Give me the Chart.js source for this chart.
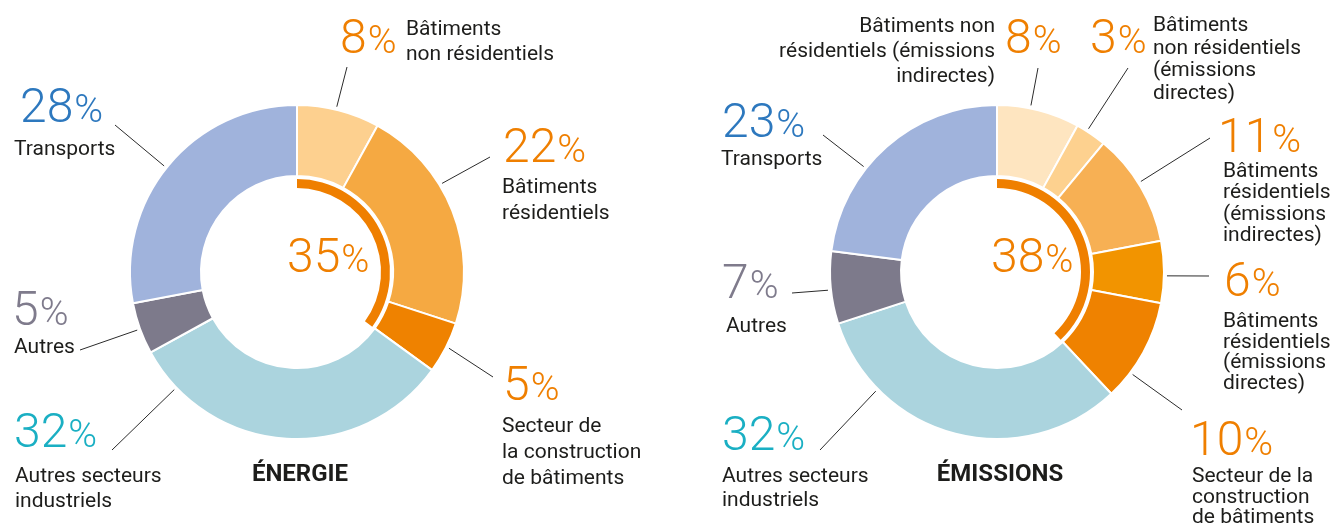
<!DOCTYPE html>
<html>
<head>
<meta charset="utf-8">
<script src="https://cdn.jsdelivr.net/npm/chart.js@4.4.1/dist/chart.umd.min.js"></script>
<style>
  body { margin: 0; background: #fff; }
  canvas { position: absolute; top: 0; }
  #energie { left: 0; }
  #emissions { left: 667px; }
</style>
</head>
<body>
<canvas id="energie" width="667" height="527"></canvas>
<canvas id="emissions" width="667" height="527"></canvas>
<script>
// Energy shares (%), clockwise from 12 o'clock
var energyNames = [
  ["Bâtiments", "non résidentiels"],
  ["Bâtiments", "résidentiels"],
  ["Secteur de", "la construction", "de bâtiments"],
  ["Autres secteurs", "industriels"],
  ["Autres"],
  ["Transports"]
];
var energyValues = [8, 22, 5, 32, 5, 28];
var energyBuildings = 35;

// Emission shares (%)
var emissionNames = [
  ["Bâtiments non", "résidentiels (émissions", "indirectes)"],
  ["Bâtiments", "non résidentiels", "(émissions", "directes)"],
  ["Bâtiments", "résidentiels", "(émissions", "indirectes)"],
  ["Bâtiments", "résidentiels", "(émissions", "directes)"],
  ["Secteur de la", "construction", "de bâtiments"],
  ["Autres secteurs", "industriels"],
  ["Autres"],
  ["Transports"]
];
var emissionValues = [8, 3, 11, 6, 10, 32, 7, 23];
var emissionBuildings = 38;

// styles
var ORANGE = "#EF7F00";
var energyColors = ["#FDD08F", "#F5A942", "#EF8200", "#ABD4DE", "#7D7A8B", "#A0B3DC"];
var energyTextColors = [ORANGE, ORANGE, ORANGE, "#1AAFC3", "#7F7B8C", "#2D78BE"];
var emissionColors = ["#FEE5C0", "#FDD18F", "#F7B054", "#F29400", "#EF8200", "#ABD4DE", "#7D7A8B", "#A0B3DC"];
var emissionTextColors = [ORANGE, ORANGE, ORANGE, ORANGE, ORANGE, "#1AAFC3", "#7F7B8C", "#2D78BE"];

// callout layout (canvas coords): t = where on the arc the leader starts
var energyLayout = [
  { t: 0.47, end: [347, 67], num: [340, 53], txt: [406, 35], lh: 25 },
  { t: 0.376, end: [490, 157], num: [503, 162], txt: [502, 193], lh: 26 },
  { t: 0.48, end: [493, 377], num: [503, 400], txt: [502, 432], lh: 26 },
  { t: 0.87, end: [112, 450], num: [14, 447], txt: [15, 482], lh: 25 },
  { t: 0.49, end: [80, 350], num: [12, 325], txt: [14, 353], lh: 25 },
  { t: 0.49, end: [115, 125], num: [20, 122], txt: [14, 155], lh: 25 }
];
var emissionLayout = [
  { t: 0.40, end: [371, 68], num: [338, 53], txt: [328, 32], lh: 25, align: "right" },
  { t: 0.35, end: [461, 68], num: [423, 53], txt: [486, 31], lh: 22.5 },
  { t: 0.46, end: [543, 138], num: [551, 152], txt: [556, 177], lh: 21.3 },
  { t: 0.56, end: [542, 276], num: [557, 296], txt: [556, 327], lh: 20.7 },
  { t: 0.73, end: [515, 410], num: [523, 455], txt: [525, 482], lh: 20.5 },
  { t: 0.77, end: [153, 450], num: [55, 450], txt: [55, 482], lh: 24 },
  { t: 0.47, end: [125, 293], num: [55, 298], txt: [59, 332], lh: 24 },
  { t: 0.376, end: [156, 135], num: [55, 137], txt: [54, 165], lh: 24 }
];

function drawPercent(ctx, x, y, value, color, big, small) {
  ctx.fillStyle = color;
  ctx.textAlign = "left";
  ctx.textBaseline = "alphabetic";
  ctx.font = "300 " + big + "px Roboto";
  ctx.fillText(String(value), x, y);
  var w = ctx.measureText(String(value)).width;
  ctx.font = "300 " + small + "px Roboto";
  ctx.fillText("%", x + w + 1, y);
}

var calloutPlugin = {
  id: "callouts",
  afterDraw: function(chart, args, opts) {
    var ctx = chart.ctx;
    var arcs = chart.getDatasetMeta(0).data;
    ctx.save();
    arcs.forEach(function(arc, i) {
      var lay = opts.layout[i];
      var p = arc.getProps(["x", "y", "startAngle", "endAngle", "outerRadius"], true);
      var a = p.startAngle + lay.t * (p.endAngle - p.startAngle);
      var r = p.outerRadius + 3;
      ctx.strokeStyle = "#2b2b2b";
      ctx.lineWidth = 1;
      ctx.beginPath();
      ctx.moveTo(p.x + r * Math.cos(a), p.y + r * Math.sin(a));
      ctx.lineTo(lay.end[0], lay.end[1]);
      ctx.stroke();

      drawPercent(ctx, lay.num[0], lay.num[1], opts.values[i], opts.textColors[i], 48, 39);

      ctx.fillStyle = "#1d1d1b";
      ctx.font = "21px Roboto";
      ctx.textAlign = lay.align || "left";
      opts.names[i].forEach(function(line, k) {
        ctx.fillText(line, lay.txt[0], lay.txt[1] + k * lay.lh);
      });
    });

    // centre figure and title
    drawPercent(ctx, opts.center[0], opts.center[1], opts.total, ORANGE, 48, 38);
    ctx.fillStyle = "#1d1d1b";
    ctx.font = "bold 24px Roboto";
    ctx.textAlign = "center";
    ctx.fillText(opts.title, opts.titlePos[0], opts.titlePos[1]);
    ctx.restore();
  }
};

function makeDonut(id, values, colors, total, padding, callouts) {
  return new Chart(document.getElementById(id).getContext("2d"), {
    type: "doughnut",
    data: {
      datasets: [
        {
          data: values,
          backgroundColor: colors,
          borderColor: "#ffffff",
          borderWidth: 2,
          weight: 71
        },
        {
          data: [1],
          backgroundColor: ["rgba(0,0,0,0)"],
          borderWidth: 0,
          weight: 3
        },
        {
          data: [total, 100 - total],
          backgroundColor: [ORANGE, "rgba(0,0,0,0)"],
          borderWidth: 0,
          weight: 9
        }
      ]
    },
    options: {
      responsive: false,
      animation: false,
      events: [],
      radius: 167,
      cutout: "50.3%",
      layout: { padding: padding },
      plugins: {
        legend: { display: false },
        tooltip: { enabled: false },
        callouts: callouts
      }
    },
    plugins: [calloutPlugin]
  });
}

makeDonut("energie", energyValues, energyColors, energyBuildings,
  { left: 0, right: 73, top: 17, bottom: 0 },
  {
    layout: energyLayout, values: energyValues, names: energyNames,
    textColors: energyTextColors, total: energyBuildings,
    center: [287, 272], title: "ÉNERGIE", titlePos: [300, 481]
  });

makeDonut("emissions", emissionValues, emissionColors, emissionBuildings,
  { left: 0, right: 7, top: 17, bottom: 0 },
  {
    layout: emissionLayout, values: emissionValues, names: emissionNames,
    textColors: emissionTextColors, total: emissionBuildings,
    center: [324, 272], title: "ÉMISSIONS", titlePos: [333, 481]
  });
</script>
</body>
</html>
